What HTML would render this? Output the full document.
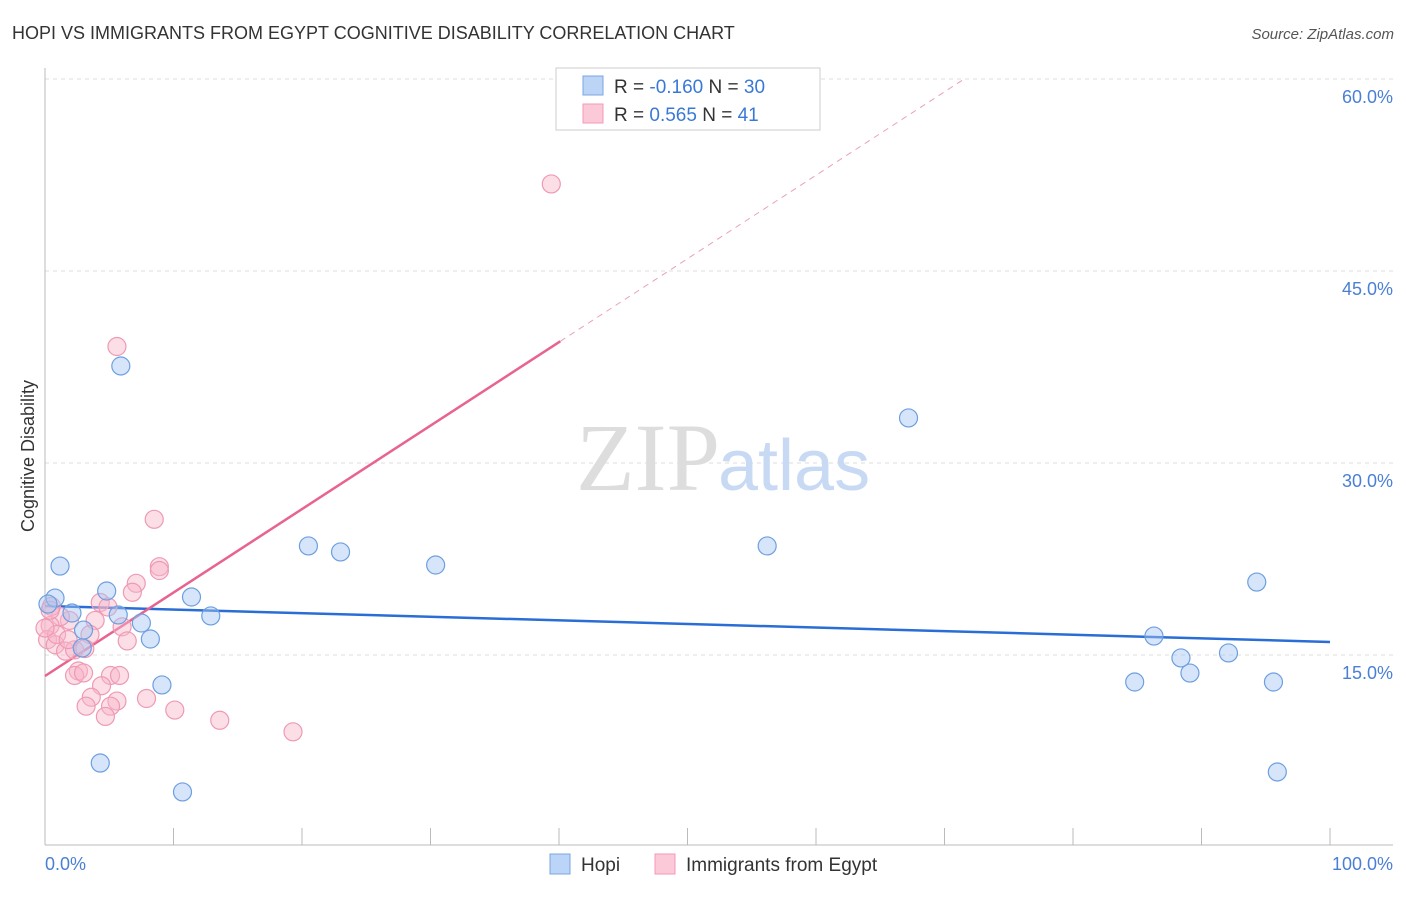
<!DOCTYPE html>
<html><head><meta charset="utf-8"><style>
body{margin:0;background:#fff;font-family:"Liberation Sans",sans-serif}
</style></head><body>
<svg width="1406" height="892" xmlns="http://www.w3.org/2000/svg">
<text x="12" y="39" font-size="18" fill="#333">HOPI VS IMMIGRANTS FROM EGYPT COGNITIVE DISABILITY CORRELATION CHART</text>
<text x="1394" y="39" font-size="15" fill="#555" text-anchor="end" font-style="italic">Source: ZipAtlas.com</text>
<g id="grid"></g>
<text x="720" y="490" font-size="96" fill="#ddd" text-anchor="end" font-family="Liberation Serif">ZIP</text>
<text x="718" y="490" font-size="72" fill="#c8daf3">atlas</text>
<line x1="45" y1="68" x2="45" y2="845" stroke="#bbb"/>
<line x1="45" y1="845" x2="1393" y2="845" stroke="#bbb"/>
<text transform="translate(34,456) rotate(-90)" font-size="18" fill="#333" text-anchor="middle">Cognitive Disability</text>
<text x="45" y="870" font-size="18" fill="#4a7fd4">0.0%</text>
<text x="1393" y="870" font-size="18" fill="#4a7fd4" text-anchor="end">100.0%</text>
<g id="lines"></g>
<g id="pts"></g>
<g>
<rect x="556" y="68" width="264" height="62" fill="#fff" stroke="#ccc"/>
<rect x="583" y="76" width="20" height="19" fill="#bcd4f6" stroke="#7aa6e3"/>
<rect x="583" y="104" width="20" height="19" fill="#fbc9d7" stroke="#f09ab5"/>
<text x="614" y="93" font-size="19" fill="#333">R = <tspan fill="#3a78d8">-0.160</tspan>   N = <tspan fill="#3a78d8">30</tspan></text>
<text x="614" y="121" font-size="19" fill="#333">R =  <tspan fill="#3a78d8">0.565</tspan>   N =  <tspan fill="#3a78d8">41</tspan></text>
</g>
<g>
<rect x="550" y="854" width="20" height="20" fill="#bcd4f6" stroke="#7aa6e3"/>
<text x="581" y="871" font-size="19" fill="#333">Hopi</text>
<rect x="655" y="854" width="20" height="20" fill="#fbc9d7" stroke="#f09ab5"/>
<text x="686" y="871" font-size="19" fill="#333">Immigrants from Egypt</text>
</g>
</svg>
<script>
const yTicks=[15,30,45,60];
const yTickLabels=["15.0%","30.0%","45.0%","60.0%"];
const xTicks=[10,20,30,40,50,60,70,80,90,100];
const hopiX=[1.17,0.78,0.23,2.1,3.0,2.9,4.8,5.7,7.5,8.2,9.1,4.3,10.7,11.4,12.9,5.9,20.5,23.0,30.4,56.2,67.2,86.3,88.4,89.1,92.1,94.3,95.6,84.8,95.9];
const hopiY=[21.95,19.45,18.98,18.28,16.95,15.55,20.0,18.13,17.5,16.25,12.66,6.56,4.3,19.53,18.05,37.58,23.52,23.05,22.03,23.52,33.52,16.48,14.77,13.59,15.16,20.7,12.89,12.89,5.86];
const egX=[39.4,5.6,8.5,8.9,8.9,7.1,6.8,4.3,4.9,3.9,6.0,6.4,3.5,1.9,1.2,0.5,0.4,0.2,0.8,1.6,2.3,3.1,2.6,2.3,3.0,5.1,5.8,4.4,3.6,5.6,3.2,5.1,4.7,7.9,10.1,13.6,19.3,0.4,0.9,1.8,0];
const egY=[51.8,39.1,25.6,21.9,21.6,20.6,19.9,19.1,18.75,17.7,17.2,16.1,16.6,17.7,18.0,18.8,17.3,16.2,15.8,15.3,15.4,15.5,13.75,13.4,13.6,13.4,13.4,12.6,11.7,11.4,11.0,11.0,10.2,11.6,10.7,9.9,9.0,18.5,16.6,16.2,17.1];
const hopiTrend=[18.83,-0.0281];
const egTrend=[13.36,0.652];
const NS="http://www.w3.org/2000/svg";
const xs=v=>45+v*12.85, ys=v=>847-v*12.8;
function mk(t,a,p){const e=document.createElementNS(NS,t);for(const k in a)e.setAttribute(k,a[k]);p.appendChild(e);return e;}
const grid=document.getElementById('grid');
yTicks.forEach((t,i)=>{
 const l=mk('line',{x1:45,x2:1393,y1:ys(t),y2:ys(t),stroke:'#ddd','stroke-dasharray':'4,4'},grid);
 
 
 const tx=mk('text',{x:1393,y:ys(t)+24,'font-size':18,fill:'#4a7fd4','text-anchor':'end'},grid);
 tx.textContent=yTickLabels[i];
 
 
});
xTicks.forEach(t=>{
 const l=mk('line',{x1:xs(t),x2:xs(t),y1:828,y2:845,stroke:'#bbb'},grid);
 
 
});
const lines=document.getElementById('lines');
const hl=mk('line',{x1:xs(0),y1:ys(hopiTrend[0]),x2:xs(100),y2:ys(hopiTrend[0]+100*hopiTrend[1]),stroke:'#2a6dd6','stroke-width':2.5},lines);


const xEnd=40.1;
const el=mk('line',{x1:xs(0),y1:ys(egTrend[0]),x2:xs(xEnd),y2:ys(egTrend[0]+xEnd*egTrend[1]),stroke:'#e8638f','stroke-width':2.5},lines);


const xd=(60-egTrend[0])/egTrend[1];
const ed=mk('line',{x1:xs(xEnd),y1:ys(egTrend[0]+xEnd*egTrend[1]),x2:xs(xd),y2:ys(60),stroke:'#eba0b8','stroke-width':1,'stroke-dasharray':'6,5'},lines);


const pts=document.getElementById('pts');
egX.forEach((x,i)=>{
 const c=mk('circle',{cx:xs(x),cy:ys(egY[i]),r:9,fill:'rgba(248,182,202,0.45)',stroke:'#ee9ab4','stroke-width':1.2},pts);
 
 
});
hopiX.forEach((x,i)=>{
 const c=mk('circle',{cx:xs(x),cy:ys(hopiY[i]),r:9,fill:'rgba(164,198,242,0.45)',stroke:'#6d9fe0','stroke-width':1.2},pts);
 
 
});
</script>
</body></html>
